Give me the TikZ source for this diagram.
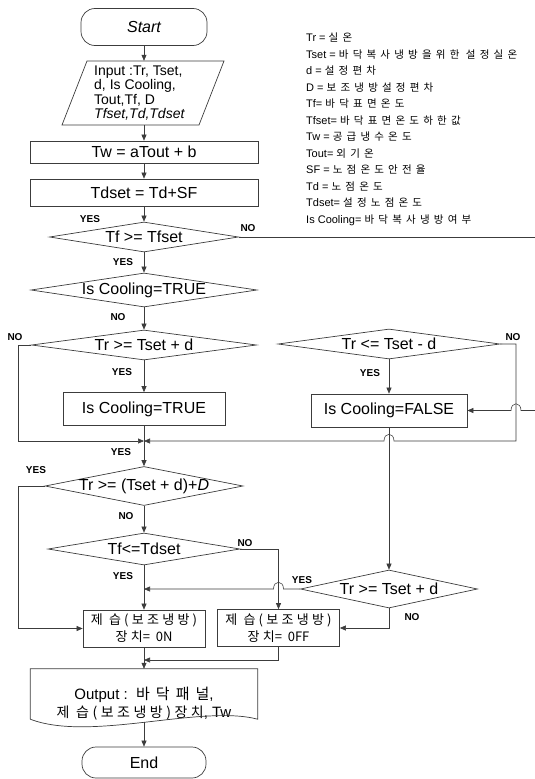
\documentclass[tikz,border=0pt]{standalone}
\usepackage{fontspec}
\setmainfont{Liberation Sans}
\newfontfamily\kr[LetterSpace=25]{Noto Sans CJK KR}
\newfontfamily\krtight{Noto Sans CJK KR}
\newfontfamily\krwide[LetterSpace=40]{Noto Sans CJK KR}
\usetikzlibrary{shapes.geometric, arrows.meta}
\definecolor{cLine}{RGB}{60,60,60}
\tikzset{
	terminal/.style ={rectangle, rounded corners=14pt, minimum width=126pt, minimum height=37pt, draw=cLine, line width=0.7pt},
	inout/.style    ={rectangle, minimum height=64pt, align=left, inner sep=0pt},
	process/.style  ={rectangle, minimum width=228pt, draw=cLine, line width=0.7pt},
	flag/.style     ={rectangle, minimum height=33pt, draw=cLine, line width=0.7pt},
	decision/.style ={diamond, inner sep=0pt, draw=cLine, line width=0.7pt},
	device/.style   ={rectangle, minimum width=122pt, minimum height=37pt, align=center, draw=cLine, line width=0.7pt, font=\fontsize{13}{17}\selectfont\kr},
	% connectors and branch labels
	flow/.style     ={-{Triangle[length=6pt, width=5pt]}, cLine, line width=0.6pt},
	wire/.style     ={cLine, line width=0.6pt},
	answer/.style   ={inner sep=0pt, font=\fontsize{10}{12}\selectfont\bfseries},
	keyline/.style  ={anchor=base west, inner sep=0pt, font=\fontsize{11}{12}\selectfont},
}

\begin{document}
\begin{tikzpicture}[x=1pt, y=-1pt, font=\fontsize{16}{18}\selectfont]
	\useasboundingbox (0,0) rectangle (535,779);
	% main column
	\node[terminal, font=\fontsize{16}{18}\selectfont\itshape] (start) at (144,27) {Start};
	\node[inout, font=\fontsize{14}{14.5}\selectfont, anchor=west] (input) at (94,93) {Input :Tr, Tset,\\d, Is Cooling,\\Tout,Tf, D\\\textit{Tfset,Td,Tdset}};
	\draw[cLine, line width=0.7pt] (87,61) -- (224,61) -- (199,125) -- (62,125) -- cycle;
	\node[process, minimum height=22pt] (calcTw) at (144,152) {Tw = aTout + b};
	\node[process, minimum height=27pt] (calcTd) at (144,192.5) {Tdset = Td+SF};
	\node[decision, minimum width=189pt, minimum height=30pt, label=center:{Tf >= Tfset}] (chkTf) at (144,237) {};
	\node[decision, minimum width=226pt, minimum height=34pt, label=center:{Is Cooling=TRUE}] (chkCool) at (144,290) {};
	\node[decision, minimum width=225pt, minimum height=30pt, label=center:{Tr >= Tset + d}] (chkHi) at (144,345) {};
	\node[flag, minimum width=162pt] (setTrue) at (144,409) {Is Cooling=TRUE};
	\coordinate (merge) at (144,441);
	\node[decision, minimum width=198pt, minimum height=39pt, label=center:{Tr >= (Tset + d)+\textit{D}}] (chkDeh) at (144,486) {};
	\node[decision, minimum width=192pt, minimum height=32pt, label=center:{Tf<=Tdset}] (chkDew) at (144,549) {};
	\node[device] (devOn) at (144,628.5) {제 습(보조냉방)\\장치{\krtight= \ 0N}};
	\node[device] (devOff) at (278.5,628) {제 습(보조냉방)\\장치{\krtight= \ 0FF}};
	\coordinate (join) at (144,660);
	\node[rectangle, minimum width=227pt, minimum height=53pt, label={[yshift=-8pt, align=center, font=\fontsize{15}{18}\selectfont]center:{Output :\ \ {\krwide 바닥패널},\\{\kr\fontsize{14}{18}\selectfont 제 습(보조냉방)장치}, Tw}}] (output) at (144,695.5) {};
	\draw[cLine, line width=0.7pt] (output.north west) -- (output.north east) -- ([yshift=3pt]output.south east) .. controls +(-57,-15) and +(60,23) .. ([yshift=3pt]output.south west) -- cycle;
	\node[terminal, minimum width=124pt, minimum height=31pt] (stop) at (144,762.5) {End};
	% right column
	\node[decision, minimum width=222pt, minimum height=30pt, label=center:{Tr <= Tset - d}] (chkLo) at (389,344) {};
	\node[flag, minimum width=156pt] (setFalse) at (389,410.5) {Is Cooling=FALSE};
	\node[decision, minimum width=177pt, minimum height=38pt, label=center:{Tr >= Tset + d}] (chkHi2) at (389,589) {};
	% rails, page edge and line hops
	\coordinate (railL) at (18,0);
	\coordinate (railR) at (516,0);
	\coordinate (edgeR) at (535,0);
	\coordinate (hopA) at (setFalse.east -| railR);
	\coordinate (hopB) at (setFalse.south |- merge);
	\coordinate (hopC) at (devOff.north |- chkHi2.west);
	% legend
	\foreach \sym/\txt [count=\i] in {Tr =/실온, Tset =/바닥복사냉방을위한 설정실온, d =/설정편차, D =/보조냉방설정편차, Tf=/바닥표면온도, Tfset=/바닥표면온도하한값, Tw =/공급냉수온도, Tout=/외기온, SF =/노점온도안전율, Td =/노점온도, Tdset=/설정노점온도, Is Cooling=/바닥복사냉방여부}
		\node[keyline] (key\i) at (306,25+16.5*\i) {\sym\ {\krwide\fontsize{10.5}{12}\selectfont\txt}};
	% branch labels
	\node[answer] (aTfYes) at (90,219) {YES};
	\node[answer] (aTfNo) at (248,228) {NO};
	\node[answer] (aTfYes2) at (123,262) {YES};
	\node[answer] (aCoolNo) at (118,317) {NO};
	\node[answer] (aHiNo) at (15,337) {NO};
	\node[answer] (aHiYes) at (122,372) {YES};
	\node[answer] (aLoNo) at (513,337) {NO};
	\node[answer] (aLoYes) at (370,373) {YES};
	\node[answer] (aMergeYes) at (121,452) {YES};
	\node[answer] (aDehYes) at (36,470) {YES};
	\node[answer] (aDehNo) at (126,516) {NO};
	\node[answer] (aDewNo) at (245,543) {NO};
	\node[answer] (aDewYes) at (123,576) {YES};
	\node[answer] (aHi2Yes) at (302,580) {YES};
	\node[answer] (aHi2No) at (412,617) {NO};
	% connectors
	\draw[flow] (start) -- (start |- input.north);
	\draw[flow] (start |- input.south) -- (calcTw);
	\draw[flow] (calcTw) -- (calcTd);
	\draw[flow] (calcTd) -- (chkTf);
	\draw[flow] (chkTf) -- (chkCool);
	\draw[flow] (chkCool) -- (chkHi);
	\draw[flow] (chkHi) -- (setTrue);
	\draw[wire] (setTrue) -- (merge);
	\draw[wire] (chkTf.east) -- (chkTf.east -| edgeR);
	\draw[flow] (setFalse.east -| edgeR) -- ([xshift=5pt]hopA) .. controls +(0,-9) and +(0,-9) .. ([xshift=-5pt]hopA) -- (setFalse.east);
	\draw[flow] (chkHi.west) -- (chkHi.west -| railL) -- (railL |- merge) -- (merge);
	\draw[flow] (chkLo.east) -- (chkLo.east -| railR) -- (railR |- merge) -- ([xshift=5pt]hopB) .. controls +(0,-9) and +(0,-9) .. ([xshift=-5pt]hopB) -- (merge);
	\draw[flow] (chkLo) -- (setFalse);
	\draw[flow] (setFalse) -- (chkHi2);
	\draw[flow] (merge) -- (chkDeh);
	\draw[flow] (chkDeh) -- (chkDew);
	\draw[flow] (chkDeh.west) -- (chkDeh.west -| railL) |- (devOn.west);
	\draw[flow] (chkDew) -- (devOn);
	\draw[flow] (chkDew.east) -| (devOff.north);
	\draw[flow] (chkHi2.west) -- ([xshift=5pt]hopC) .. controls +(0,-9) and +(0,-9) .. ([xshift=-5pt]hopC) -- (chkHi2.west -| devOn.north);
	\draw[flow] (chkHi2.south) |- (devOff.east);
	\draw[flow] (devOff.south) |- (join);
	\draw[flow] (devOn) -- (output);
	\draw[flow] (output) -- (stop);
\end{tikzpicture}
\end{document}
